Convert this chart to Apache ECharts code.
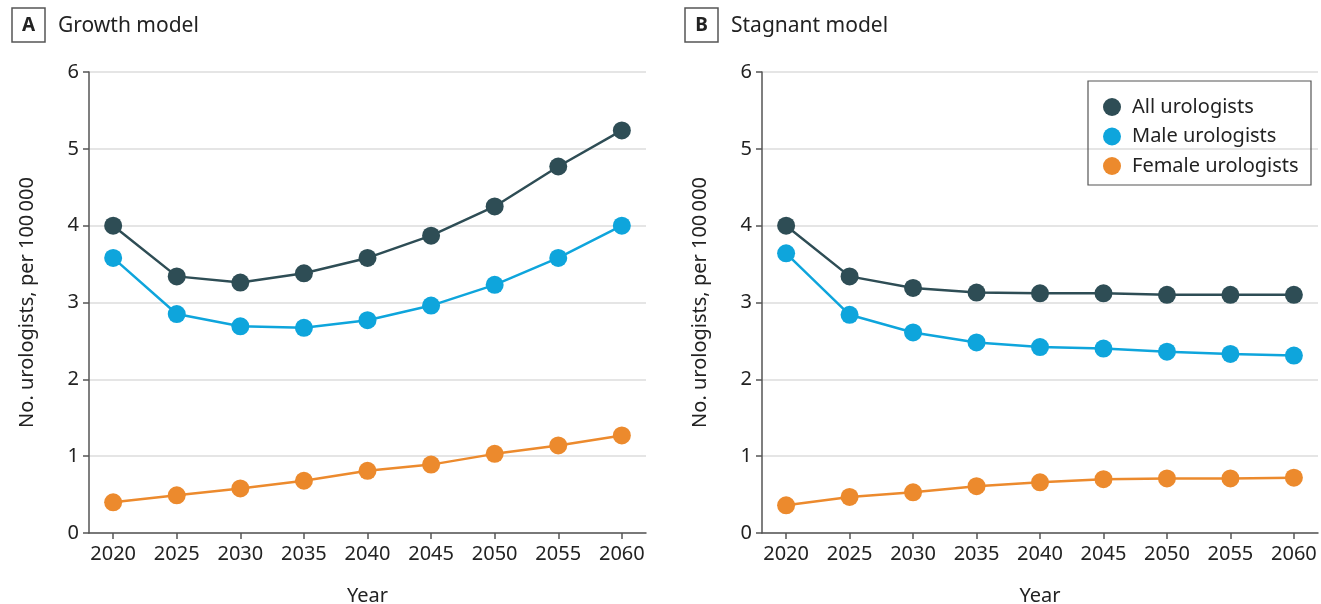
<!DOCTYPE html>
<html>
<head>
<meta charset="utf-8">
<script src="https://cdn.jsdelivr.net/npm/echarts@6/dist/echarts.min.js"></script>
<style>
  html, body { margin: 0; padding: 0; background: #fff; }
  #main { width: 1321px; height: 604px; }
</style>
</head>
<body>
<div id="main"></div>
<script>
var chart = echarts.init(document.getElementById('main'));

var years = [2020, 2025, 2030, 2035, 2040, 2045, 2050, 2055, 2060];
var yTicks = [0, 1, 2, 3, 4, 5, 6];

// A: growth model
var growthAll    = [4.00, 3.34, 3.26, 3.38, 3.58, 3.87, 4.25, 4.77, 5.24];
var growthMale   = [3.58, 2.85, 2.69, 2.67, 2.77, 2.96, 3.23, 3.58, 4.00];
var growthFemale = [0.40, 0.49, 0.58, 0.68, 0.81, 0.89, 1.03, 1.14, 1.27];

// B: stagnant model
var stagAll    = [4.00, 3.34, 3.19, 3.13, 3.12, 3.12, 3.10, 3.10, 3.10];
var stagMale   = [3.64, 2.84, 2.61, 2.48, 2.42, 2.40, 2.36, 2.33, 2.31];
var stagFemale = [0.36, 0.47, 0.53, 0.61, 0.66, 0.70, 0.71, 0.71, 0.72];

var seriesNames = ['All urologists', 'Male urologists', 'Female urologists'];
var colors = ['#2e4d55', '#0ea5dc', '#ec8a2d'];

var font = '"Noto Sans", sans-serif';
var axisColor = '#555';

function pairs(vals) {
    return years.map(function (y, i) { return [y, vals[i]]; });
}

function xAxis(idx) {
    return {
        type: 'value', gridIndex: idx,
        min: 2018.1, max: 2061.9,
        name: 'Year', nameLocation: 'middle', nameGap: 53,
        nameTextStyle: { fontFamily: font, fontSize: 20, color: '#222' },
        axisLine: { lineStyle: { color: axisColor, width: 1.5 } },
        axisTick: { customValues: years, length: 6, lineStyle: { color: axisColor, width: 1.5 } },
        axisLabel: {
            customValues: years, margin: 11,
            fontFamily: font, fontSize: 20, color: '#222',
            formatter: function (v) { return String(v); }
        },
        splitLine: { show: false }
    };
}

function yAxis(idx) {
    return {
        type: 'value', gridIndex: idx,
        min: yTicks[0], max: yTicks[yTicks.length - 1], interval: 1,
        name: 'No. urologists, per 100\u2009000', nameLocation: 'middle', nameGap: 52,
        nameTextStyle: { fontFamily: font, fontSize: 20, color: '#222' },
        axisLine: { show: true, lineStyle: { color: axisColor, width: 1.5 } },
        axisTick: { show: true, length: 6, lineStyle: { color: axisColor, width: 1.5 } },
        axisLabel: { margin: 10, fontFamily: font, fontSize: 20, color: '#222' },
        splitLine: { lineStyle: { color: '#dcdcdc', width: 1.5 } }
    };
}

function lineSeries(name, vals, k, idx) {
    return {
        name: name, type: 'line',
        xAxisIndex: idx, yAxisIndex: idx,
        data: pairs(vals),
        symbol: 'circle', symbolSize: 18,
        itemStyle: { color: colors[k] },
        lineStyle: { color: colors[k], width: 2.5 },
        emphasis: { disabled: true },
        z: 3 - k
    };
}

function panelLabel(x, letter, title) {
    return [
        { type: 'rect', shape: { x: x, y: 8, width: 33, height: 34 },
          style: { fill: '#fff', stroke: '#555', lineWidth: 1.5 } },
        { type: 'text', x: x + 16.5, y: 26,
          style: { text: letter, fontFamily: font, fontSize: 19, fontWeight: 'bold', fill: '#222',
                   align: 'center', verticalAlign: 'middle' } },
        { type: 'text', x: x + 46, y: 26,
          style: { text: title, fontFamily: font, fontSize: 21, fill: '#222',
                   align: 'left', verticalAlign: 'middle' } }
    ];
}

var option = {
    animation: false,
    backgroundColor: '#fff',
    grid: [
        { left: 89, right: 675, top: 72, bottom: 71, outerBoundsMode: 'none', containLabel: false },
        { left: 762, right: 3, top: 72, bottom: 71, outerBoundsMode: 'none', containLabel: false }
    ],
    xAxis: [xAxis(0), xAxis(1)],
    yAxis: [yAxis(0), yAxis(1)],
    legend: {
        data: seriesNames,
        orient: 'vertical',
        left: 1103, top: 97,
        icon: 'circle', itemWidth: 18, itemHeight: 18, itemGap: 9.5,
        padding: 0,
        textStyle: { fontFamily: font, fontSize: 20, color: '#222', padding: [0, 0, 0, 6] }
    },
    graphic: panelLabel(12, 'A', 'Growth model')
        .concat(panelLabel(685, 'B', 'Stagnant model'))
        .concat([{ type: 'rect', shape: { x: 1088, y: 81, width: 223, height: 104 },
                   style: { fill: 'none', stroke: '#555', lineWidth: 1.2 }, z: 10 }]),
    series: [
        lineSeries(seriesNames[0], growthAll, 0, 0),
        lineSeries(seriesNames[1], growthMale, 1, 0),
        lineSeries(seriesNames[2], growthFemale, 2, 0),
        lineSeries(seriesNames[0], stagAll, 0, 1),
        lineSeries(seriesNames[1], stagMale, 1, 1),
        lineSeries(seriesNames[2], stagFemale, 2, 1)
    ]
};

chart.setOption(option);
</script>
</body>
</html>
